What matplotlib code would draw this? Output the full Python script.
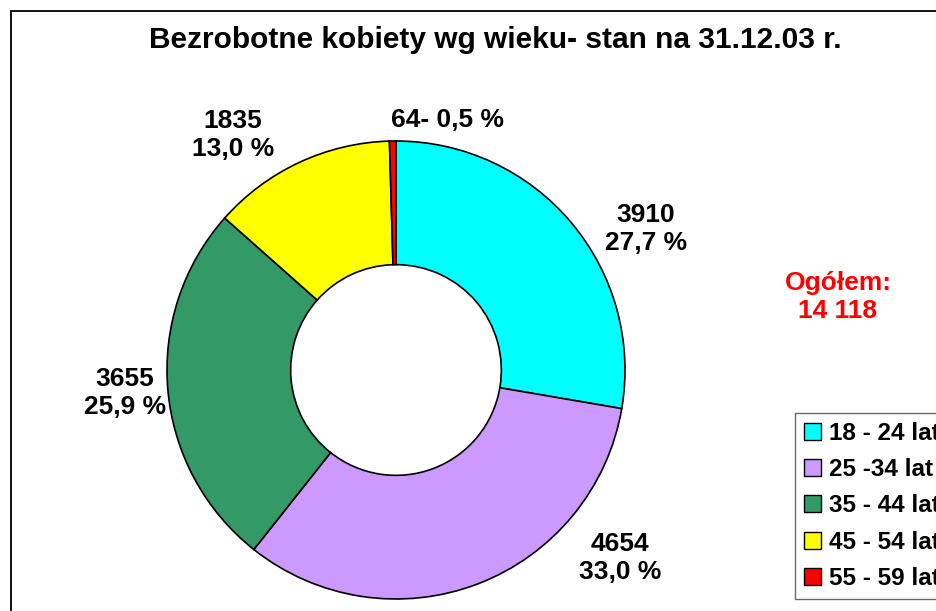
import numpy as np
import matplotlib.pyplot as plt
from matplotlib.patches import Rectangle, Patch

plt.rcParams['font.family'] = ['Liberation Sans', 'DejaVu Sans']

tytul = "Bezrobotne kobiety wg wieku- stan na 31.12.03 r."
grupy = ["18 - 24 lat", "25 -34 lat", "35 - 44 lat", "45 - 54 lat", "55 - 59 lat"]
liczby = [3910, 4654, 3655, 1835, 64]
kolory = ["#00FFFF", "#CC99FF", "#339966", "#FFFF00", "#FF0000"]

W, H = 937, 611
fig = plt.figure(figsize=(W / 100, H / 100), dpi=100)
ax = fig.add_axes([0, 0, 1, 1])

# srodek i promien w pikselach (y od dolu)
cx, cy, R = 396, H - 370, 229
wedges, _ = ax.pie(liczby, colors=kolory, startangle=90, counterclock=False,
                   center=(cx, cy), radius=R,
                   wedgeprops=dict(width=R * 0.54, edgecolor='black', linewidth=1.2))
ax.set_xlim(0, W)
ax.set_ylim(0, H)
ax.set_aspect('equal')
ax.axis('off')

# ramka wykresu (wychodzi poza prawa i dolna krawedz)
fig.patches.append(Rectangle((11 / W, -0.05), 1.0, 1 - 11 / H + 0.05,
                             transform=fig.transFigure, fill=False,
                             edgecolor='black', linewidth=1.3))

fig.text(495 / W, 1 - 40 / H, tytul, ha='center', va='center',
         fontsize=21.5, fontweight='bold')

suma = sum(liczby)
proc = [100 * v / suma for v in liczby]
etykiety = [f"{v}\n{p:.1f} %".replace('.', ',') for v, p in zip(liczby, proc)]
etykiety[-1] = f"{liczby[-1]}- {proc[-1]:.1f} %".replace('.', ',')
# polozenie etykiet (piksele)
pozycje = [(646, 229), (620, 558), (125, 393), (233, 135), (448, 120)]
for txt, (px, py) in zip(etykiety, pozycje):
    ax.text(px, H - py, txt, ha='center', va='center', fontsize=19,
            fontweight='bold', linespacing=1.2)

ax.text(838, H - 297, "Ogółem:\n" + f"{suma:,}".replace(',', ' '),
        ha='center', va='center', fontsize=19, fontweight='bold',
        color='#FF0000', linespacing=1.2)

uchwyty = [Patch(facecolor=k, edgecolor='black', linewidth=1.0) for k in kolory]
leg = fig.legend(uchwyty, grupy, loc='upper left',
                 bbox_to_anchor=(795 / W, 1 - 413 / H),
                 prop=dict(size=17.5, weight='bold'), frameon=True,
                 fancybox=False, edgecolor='#444444', borderpad=0.36,
                 labelspacing=0.55, handlelength=0.7, handleheight=0.7,
                 handletextpad=0.35, borderaxespad=0)
leg.get_frame().set_linewidth(1.0)

fig.savefig('out.png', dpi=100)
